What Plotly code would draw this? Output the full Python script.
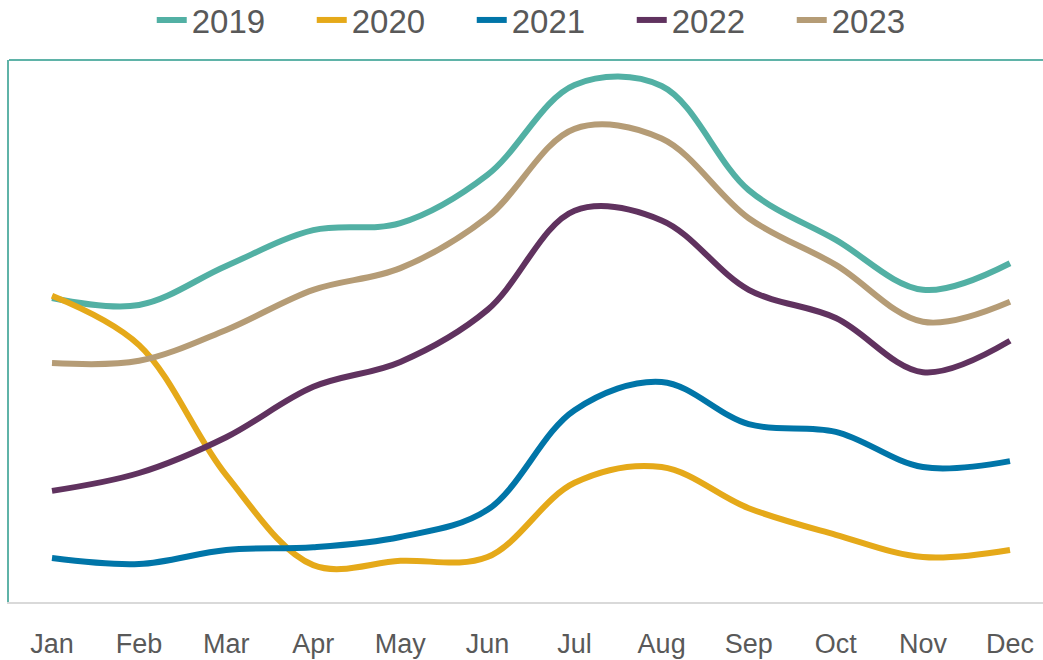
import plotly.graph_objects as go

months = ["Jan", "Feb", "Mar", "Apr", "May", "Jun", "Jul", "Aug", "Sep", "Oct", "Nov", "Dec"]
y2019 = [56.1, 54.8, 62.0, 68.6, 69.9, 78.8, 95.4, 95.2, 76.0, 66.8, 57.6, 62.5]
y2020 = [56.5, 47.4, 23.4, 6.8, 7.6, 8.3, 22.0, 24.9, 17.3, 12.4, 8.3, 9.6]
y2021 = [8.1, 7.0, 9.6, 10.1, 12.0, 17.0, 35.4, 40.6, 32.8, 31.4, 24.9, 26.0]
y2022 = [20.5, 23.8, 30.4, 39.7, 44.3, 53.9, 72.2, 70.4, 57.6, 52.4, 42.4, 48.2]
y2023 = [44.1, 44.5, 50.2, 57.6, 61.6, 71.0, 87.3, 85.5, 70.8, 62.2, 51.7, 55.4]

series = [
    ("2019", y2019, "#52b0a4"),
    ("2020", y2020, "#e5a919"),
    ("2021", y2021, "#0075a8"),
    ("2022", y2022, "#60325f"),
    ("2023", y2023, "#b59c76"),
]

fig = go.Figure()
for name, vals, color in series:
    fig.add_trace(go.Scatter(
        x=months, y=vals, name=name, mode="lines",
        line=dict(color=color, width=6, shape="spline", smoothing=1.0),
    ))

fig.update_layout(
    width=1043, height=660,
    margin=dict(l=9, r=0, t=60, b=58),
    paper_bgcolor="white", plot_bgcolor="white",
    font=dict(family="Liberation Sans, Arial, sans-serif", color="#595959"),
    showlegend=True,
    legend=dict(
        orientation="h", xref="container", yref="container",
        x=0.529, xanchor="center", y=0.9697, yanchor="middle",
        font=dict(size=33, color="#595959"),
        entrywidth=115, entrywidthmode="pixels",
        itemclick=False, itemdoubleclick=False,
    ),
    xaxis=dict(
        type="category", range=[-0.4937, 11.379],
        showgrid=False, zeroline=False,
        showline=True, linecolor="#d9d9d9", linewidth=2,
        ticks="", tickfont=dict(size=27, color="#595959"),
        ticklabelstandoff=17, tickangle=0,
    ),
    yaxis=dict(
        range=[0, 100], showgrid=False, zeroline=False,
        showticklabels=False, ticks="",
        showline=True, linecolor="#5fb3a8", linewidth=2,
    ),
    shapes=[
        dict(type="line", xref="paper", yref="paper", x0=0, x1=1, y0=1, y1=1,
             line=dict(color="#5fb3a8", width=2), layer="below"),
    ],
)

# remove the browser's default 8px body margin so the figure fills the window
fig.write_html(
    "out.html",
    config={"displayModeBar": False},
    post_script="document.body.style.margin='0';document.body.style.overflow='hidden';",
)
